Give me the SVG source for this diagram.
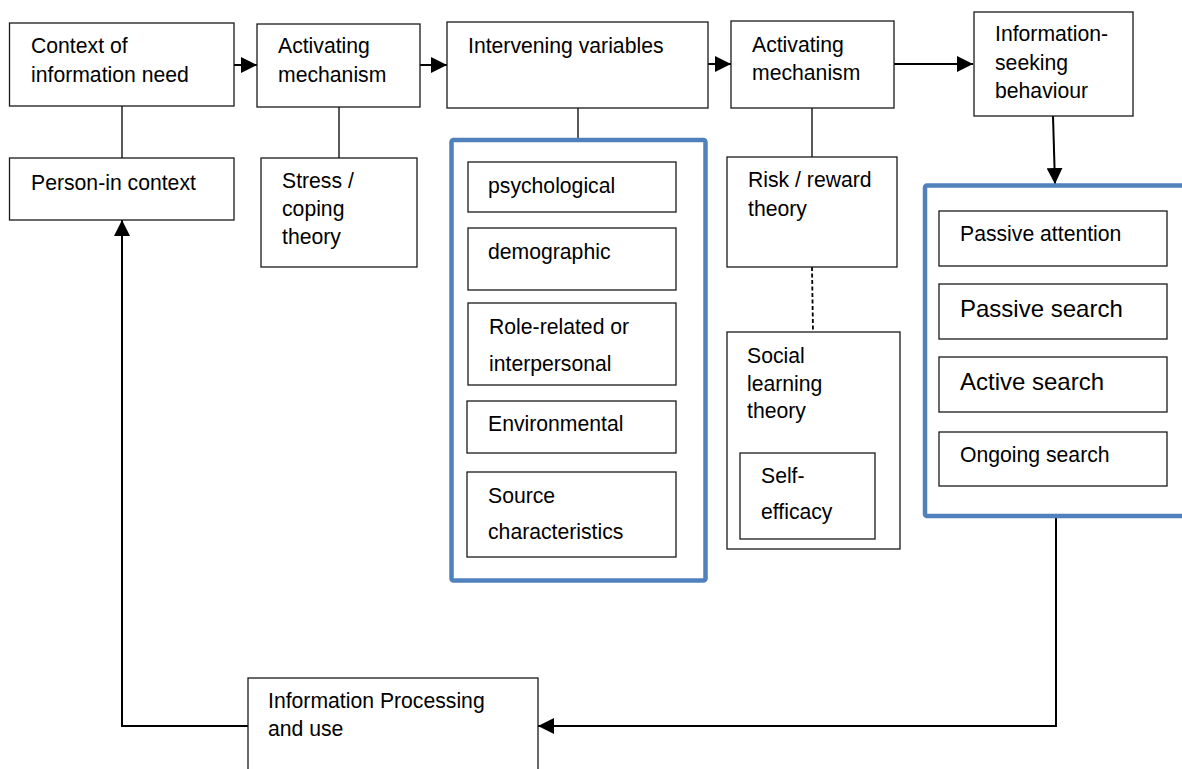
<svg xmlns="http://www.w3.org/2000/svg" width="1182" height="769" viewBox="0 0 1182 769">
<defs>
<marker id="ah" markerUnits="userSpaceOnUse" markerWidth="16" markerHeight="16" viewBox="0 0 15 15" refX="15" refY="7.5" orient="auto">
<path d="M0,0 L15,7.5 L0,15 Z" fill="#000"/>
</marker>
<style>
.b{fill:#fff;stroke:#1a1a1a;stroke-width:1.3}
.g{fill:none;stroke:#4f81bd;stroke-width:4.5}
.t{font-family:"Liberation Sans",Arial,sans-serif;font-size:21.2px;fill:#000}
.tl{font-size:24px}
.c{fill:none;stroke:#000;stroke-width:2}
.l{fill:none;stroke:#000;stroke-width:1.3}
.d{fill:none;stroke:#000;stroke-width:1.8;stroke-dasharray:4,2.5}
</style>
</defs>
<rect width="1182" height="769" fill="#fff"/>
<g id="connectors">
<line class="c" x1="234" y1="65" x2="257" y2="65" marker-end="url(#ah)"/>
<line class="c" x1="420" y1="65" x2="447" y2="65" marker-end="url(#ah)"/>
<line class="c" x1="708" y1="64" x2="731" y2="64" marker-end="url(#ah)"/>
<line class="c" x1="894" y1="64" x2="973" y2="64" marker-end="url(#ah)"/>
<line class="c" x1="1053" y1="116" x2="1055" y2="184" marker-end="url(#ah)"/>
<line class="l" x1="122" y1="106" x2="122" y2="158"/>
<line class="l" x1="339" y1="107" x2="339" y2="158"/>
<line class="l" x1="578" y1="108" x2="578" y2="138"/>
<line class="l" x1="812" y1="108" x2="812" y2="157"/>
<line class="d" x1="812" y1="267" x2="813" y2="332"/>
<polyline class="c" points="1056,518 1056,726 538,726" marker-end="url(#ah)"/>
<polyline class="c" points="248,726 122,726 122,220" marker-end="url(#ah)"/>
</g>
<g id="context"><rect class="b" x="9.5" y="23" width="224.5" height="83"/><text class="t" x="31" y="53">Context of</text><text class="t" x="31" y="82">information need</text></g>
<g id="activating1"><rect class="b" x="257" y="24" width="163" height="83"/><text class="t" x="278" y="53">Activating</text><text class="t" x="278" y="82">mechanism</text></g>
<g id="intervening"><rect class="b" x="447" y="22" width="261" height="86"/><text class="t" x="468" y="53">Intervening variables</text></g>
<g id="activating2"><rect class="b" x="731" y="21" width="163" height="87"/><text class="t" x="752" y="52">Activating</text><text class="t" x="752" y="80">mechanism</text></g>
<g id="infoseeking"><rect class="b" x="974" y="12" width="159" height="104"/><text class="t" x="995" y="41">Information-</text><text class="t" x="995" y="70">seeking</text><text class="t" x="995" y="98">behaviour</text></g>
<g id="person"><rect class="b" x="9.5" y="158" width="224.5" height="62"/><text class="t" x="31" y="190">Person-in context</text></g>
<g id="stress"><rect class="b" x="261" y="158" width="156" height="109"/><text class="t" x="282" y="188">Stress /</text><text class="t" x="282" y="216">coping</text><text class="t" x="282" y="244">theory</text></g>
<g id="variables-group"><rect class="g" x="451.5" y="140" width="254" height="440.5" rx="2"/></g>
<g id="psychological"><rect class="b" x="468" y="162" width="208" height="50"/><text class="t" x="488" y="193">psychological</text></g>
<g id="demographic"><rect class="b" x="468" y="228" width="208" height="62"/><text class="t" x="488" y="259">demographic</text></g>
<g id="role"><rect class="b" x="468" y="303" width="208" height="82"/><text class="t" x="489" y="334">Role-related or</text><text class="t" x="489" y="371">interpersonal</text></g>
<g id="environmental"><rect class="b" x="467" y="401" width="209" height="52"/><text class="t" x="488" y="431">Environmental</text></g>
<g id="source"><rect class="b" x="467" y="472" width="209" height="85"/><text class="t" x="488" y="503">Source</text><text class="t" x="488" y="539">characteristics</text></g>
<g id="risk"><rect class="b" x="727" y="157" width="170" height="110"/><text class="t" x="748" y="187">Risk / reward</text><text class="t" x="748" y="216">theory</text></g>
<g id="social"><rect class="b" x="727" y="332" width="173" height="217"/><text class="t" x="747" y="363">Social</text><text class="t" x="747" y="391">learning</text><text class="t" x="747" y="418">theory</text></g>
<g id="selfefficacy"><rect class="b" x="740" y="453" width="135" height="86"/><text class="t" x="761" y="483">Self-</text><text class="t" x="761" y="519">efficacy</text></g>
<g id="search-group"><rect class="g" x="925" y="185.5" width="280" height="330.5" rx="2"/></g>
<g id="passive-attention"><rect class="b" x="939" y="211" width="228" height="55"/><text class="t" x="960" y="241">Passive attention</text></g>
<g id="passive-search"><rect class="b" x="939" y="284" width="228" height="55"/><text class="t tl" x="960" y="317">Passive search</text></g>
<g id="active-search"><rect class="b" x="939" y="357" width="228" height="55"/><text class="t tl" x="960" y="390">Active search</text></g>
<g id="ongoing-search"><rect class="b" x="939" y="432" width="228" height="54"/><text class="t" x="960" y="462">Ongoing search</text></g>
<g id="processing"><rect class="b" x="248" y="678" width="290" height="110"/><text class="t" x="268" y="708">Information Processing</text><text class="t" x="268" y="736">and use</text></g>
</svg>
